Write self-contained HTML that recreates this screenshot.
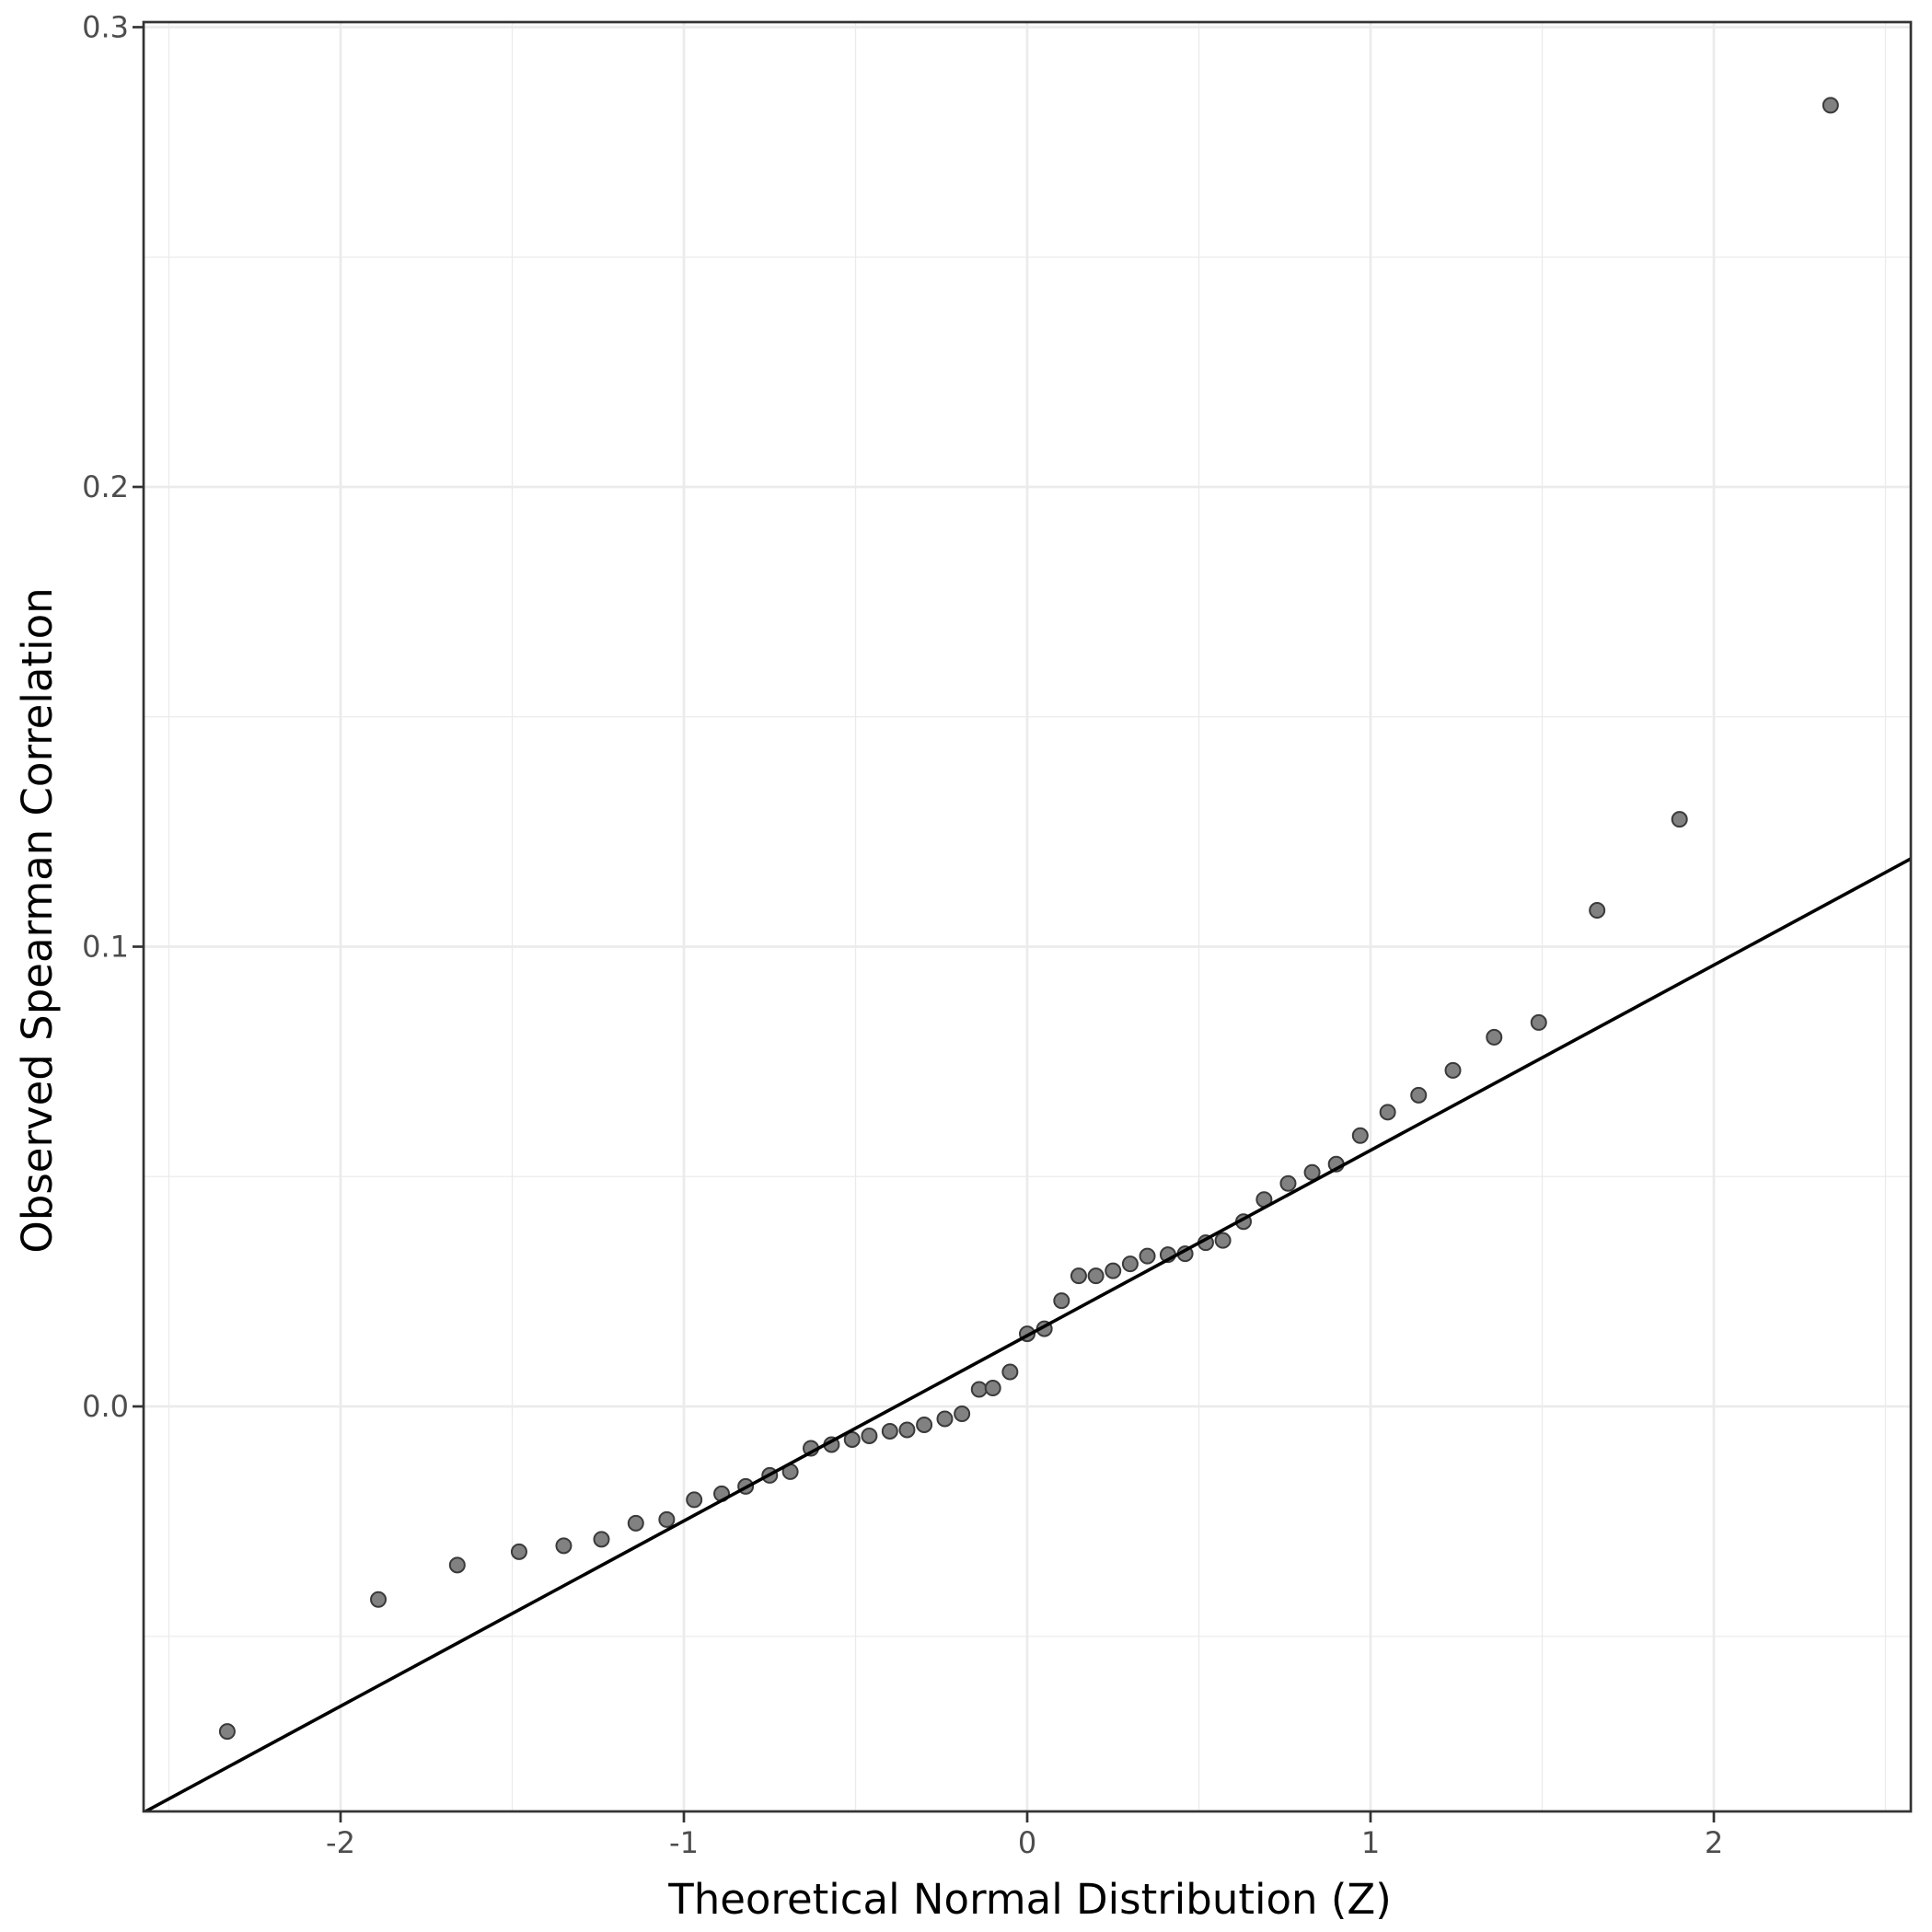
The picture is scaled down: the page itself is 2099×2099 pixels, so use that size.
<!DOCTYPE html>
<html><head><meta charset="utf-8"><style>html,body{margin:0;padding:0;background:#fff}svg{display:block}</style></head>
<body>
<svg id="chart" width="2099" height="2099" viewBox="0 0 2099 2099" xmlns="http://www.w3.org/2000/svg" font-family="'DejaVu Sans','Liberation Sans',sans-serif"></svg>
<script>
const zValues = [-2.33,-1.89,-1.66,-1.48,-1.35,-1.24,-1.14,-1.05,-0.97,-0.89,-0.82,-0.75,-0.69,-0.63,-0.57,-0.51,-0.46,-0.40,-0.35,-0.30,-0.24,-0.19,-0.14,-0.10,-0.05,0.00,0.05,0.10,0.15,0.20,0.25,0.30,0.35,0.41,0.46,0.52,0.57,0.63,0.69,0.76,0.83,0.90,0.97,1.05,1.14,1.24,1.36,1.49,1.66,1.90,2.34];
const corrValues = [-0.0707,-0.042,-0.0345,-0.0316,-0.0303,-0.0289,-0.0254,-0.0246,-0.0203,-0.019,-0.0174,-0.015,-0.0142,-0.0091,-0.0083,-0.0072,-0.0064,-0.0054,-0.0051,-0.004,-0.0027,-0.0016,0.0037,0.004,0.0075,0.0158,0.0169,0.023,0.0284,0.0284,0.0295,0.031,0.0327,0.033,0.0332,0.0356,0.0361,0.0402,0.045,0.0485,0.0509,0.0527,0.0589,0.064,0.0677,0.0731,0.0803,0.0835,0.1079,0.1277,0.283];
const xTicks = [-2,-1,0,1,2];
const xTickLabels = ["-2","-1","0","1","2"];
const yTicks = [0.0,0.1,0.2,0.3];
const yTickLabels = ["0.0","0.1","0.2","0.3"];
const lineIntercept = 0.0154;
const lineSlope = 0.0403;

const NS="http://www.w3.org/2000/svg";
const svg=document.getElementById('chart');
const L=156,R=2076,T=24,B=1968;
const sx=v=>1116+373*v;
const sy=v=>1528-4995*v;
const xMin=(L-1116)/373,xMax=(R-1116)/373;
function mk(tag,attrs,parent){const e=document.createElementNS(NS,tag);for(const k in attrs)e.setAttribute(k,attrs[k]);(parent||svg).appendChild(e);return e;}

const grid=mk('g',{});


for(let v=-2.5;v<=2.5;v+=1){const l=mk('line',{x1:sx(v),x2:sx(v),y1:T,y2:B,stroke:'#ebebeb','stroke-width':1.3},grid);}
for(let v=-0.05;v<=0.3;v+=0.1){const l=mk('line',{x1:L,x2:R,y1:sy(v),y2:sy(v),stroke:'#ebebeb','stroke-width':1.3},grid);}
xTicks.forEach(v=>{const l=mk('line',{x1:sx(v),x2:sx(v),y1:T,y2:B,stroke:'#ebebeb','stroke-width':2.7},grid);});
yTicks.forEach(v=>{const l=mk('line',{x1:L,x2:R,y1:sy(v),y2:sy(v),stroke:'#ebebeb','stroke-width':2.7},grid);});

const clip=mk('clipPath',{id:'pc'});mk('rect',{x:L,y:T,width:R-L,height:B-T},clip);

const pts=mk('g',{'clip-path':'url(#pc)'});


zValues.forEach((z,i)=>{const c=mk('circle',{cx:sx(z),cy:sy(corrValues[i]),r:8,fill:'#7a7a7a',stroke:'#3a3a3a','stroke-width':2,'fill-opacity':0.95},pts);

});

const rl=mk('line',{x1:sx(xMin),y1:sy(lineIntercept+lineSlope*xMin),x2:sx(xMax),y2:sy(lineIntercept+lineSlope*xMax),stroke:'#000','stroke-width':3.6,'clip-path':'url(#pc)'});



const frame=mk('rect',{x:L,y:T,width:R-L,height:B-T,fill:'none',stroke:'#333','stroke-width':2.7});



xTicks.forEach((v,i)=>{const t=mk('line',{x1:sx(v),x2:sx(v),y1:B,y2:B+12,stroke:'#333','stroke-width':2.7});
const tx=mk('text',{x:sx(v),y:B+45,'text-anchor':'middle','font-size':32,fill:'#4d4d4d'});tx.textContent=xTickLabels[i];});
yTicks.forEach((v,i)=>{const t=mk('line',{x1:L-12,x2:L,y1:sy(v),y2:sy(v),stroke:'#333','stroke-width':2.7});
const tx=mk('text',{x:L-16,y:sy(v)+11,'text-anchor':'end','font-size':32,fill:'#4d4d4d'});tx.textContent=yTickLabels[i];});

const xt=mk('text',{x:1119,y:2079,'text-anchor':'middle','font-size':45,fill:'#000'});xt.textContent='Theoretical Normal Distribution (Z)';


const yt=mk('text',{x:0,y:0,'text-anchor':'middle','font-size':45,fill:'#000',transform:`translate(56,1000) rotate(-90)`});yt.textContent='Observed Spearman Correlation';


</script>
</body></html>
